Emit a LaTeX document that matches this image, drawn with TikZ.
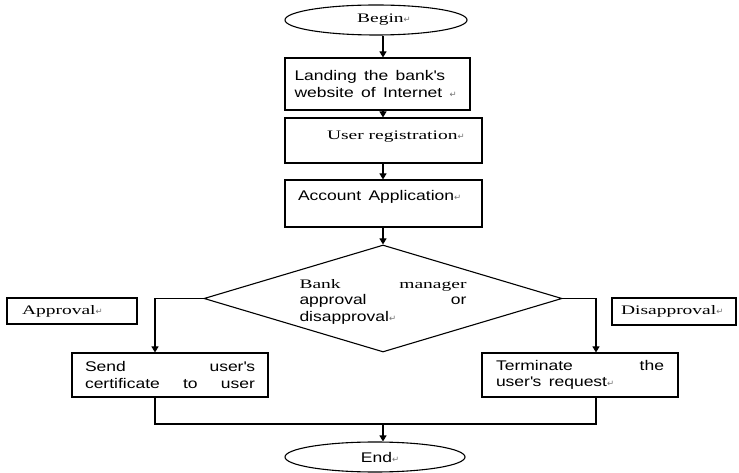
\documentclass[tikz,border=0pt]{standalone}
\usepackage{fontspec}
\setmainfont{Liberation Serif}[FakeStretch=1.5]
\setsansfont{Liberation Sans}[FakeStretch=1.25, WordSpace=1.5]
\newfontfamily\markfont{DejaVu Sans}
\usetikzlibrary{shapes.geometric,arrows.meta}

\newcommand{\ret}{{\markfont\fontsize{8.5}{8.5}\selectfont\color{black!55}↵}}

\tikzset{
  x=1pt, y=-1pt,
  every node/.style={inner sep=0pt, font=\fontsize{13}{16}\selectfont},
  stepbox/.style={draw, line width=1.1pt, rectangle},
  terminal/.style={draw, line width=1.1pt, ellipse, minimum width=182, minimum height=30},
  choice/.style={draw, line width=1.1pt, diamond, aspect=3.35, minimum width=358, minimum height=107},
  flow/.style={line width=1.1pt, -{Triangle[length=6pt,width=7pt]}},
  sftext/.style={font=\sffamily\fontsize{14}{16.5}\selectfont}
}

\begin{document}
\begin{tikzpicture}

\pgfmathsetmacro{\midX}{383}
\pgfmathsetmacro{\leftX}{155}
\pgfmathsetmacro{\rightX}{596}
\pgfmathsetmacro{\joinY}{424}

\coordinate (axis) at (\midX,0);
\coordinate (lft) at (\leftX,0);
\coordinate (rgt) at (\rightX,0);
\coordinate (join) at (\midX,\joinY);

\node[terminal] (begin) at (376,20) {\hspace*{16pt}Begin\ret};
\node[stepbox, sftext, minimum width=185, minimum height=52] (land) at (377.5,84)
  {\parbox{166pt}{Landing the bank\textquotesingle s\\website of Internet \ret}};
\node[stepbox, minimum width=197, minimum height=45] (reg) at (383.5,140.5)
  {\parbox[c][19pt][t]{185pt}{\hspace*{36pt}User registration\ret}};
\node[stepbox, sftext, minimum width=197, minimum height=47] (acc) at (383.5,203.5)
  {\parbox[c][27pt][t]{171pt}{Account Application\ret}};
\node[choice] (dec) at (383,298.5)
  {\raisebox{-6pt}[24pt][24pt]{\parbox{167pt}{Bank\hfill manager\\\sffamily\fontsize{14}{16.5}\selectfont approval\hfill or\\disapproval\ret}}};

\node[stepbox, minimum width=130, minimum height=26] (yes) at (72,311)
  {\parbox{100pt}{Approval\ret}};
\node[stepbox, minimum width=124, minimum height=27] (no) at (674,311.5)
  {\parbox{106pt}{Disapproval\ret}};

\node[stepbox, sftext, minimum width=196, minimum height=44] (send) at (170,375)
  {\parbox{170pt}{Send\hfill user\textquotesingle s\\certificate\hfill to\hfill user}};
\node[stepbox, sftext, minimum width=196, minimum height=44] (term) at (580,375)
  {\parbox{168pt}{Terminate\hfill the\\user\textquotesingle s request\ret}};

\node[terminal, sftext, minimum width=180] (end) at (375,457) {\hspace*{10pt}End\ret};

\foreach \a/\b in {begin/land, land/reg, reg/acc, acc/dec}
  \draw[flow] (\a.south -| axis) -- (\b.north -| axis);
\draw[flow] (dec.west) -| (lft |- send.north);
\draw[flow] (dec.east) -| (rgt |- term.north);
\draw[line width=1.1pt] (send.south -| lft) |- (join) -| (term.south -| rgt);
\draw[flow] (join) -- (end.north -| axis);

\useasboundingbox (0,0) rectangle (739,467);
\end{tikzpicture}
\end{document}
